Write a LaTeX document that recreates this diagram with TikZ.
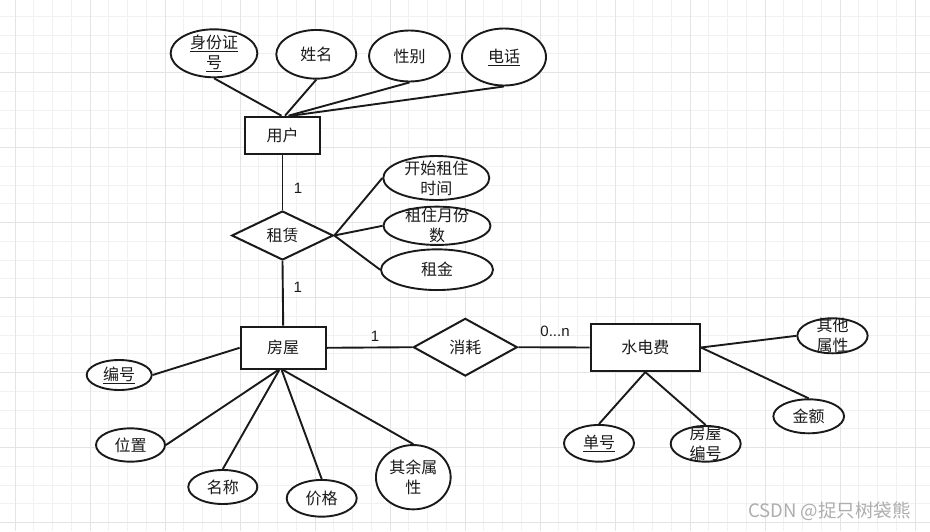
\documentclass[tikz,border=0pt]{standalone}
\usepackage{fontspec}
\setmainfont{Liberation Sans}
\newfontfamily\cjk{Noto Sans CJK SC}
\usetikzlibrary{shapes.geometric,calc}
\definecolor{ink}{HTML}{1A1A1A}
\definecolor{gridminor}{HTML}{F1F1F1}
\definecolor{gridmajor}{HTML}{E4E4E4}
\begin{document}
\begin{tikzpicture}[x=1pt,y=-1pt,
  ln/.style={line width=1.9pt, draw=ink},
  cjktext/.style={font=\cjk\fontsize{16}{20}\selectfont, text=ink},
  lbl/.style={cjktext, align=center, inner sep=0pt},
  ent/.style={rectangle, draw=ink, line width=2.2pt, fill=white, inner sep=0pt, cjktext},
  rel/.style={diamond, draw=ink, line width=2pt, fill=white, inner sep=0pt, cjktext},
  attr/.style={ellipse, draw=ink, line width=1.9pt, fill=white, inner sep=0pt, cjktext},
  card/.style={font=\fontsize{15}{16}\selectfont, text=ink, inner sep=0pt},
  minorgrid/.style={draw=gridminor, line width=1pt},
  majorgrid/.style={draw=gridmajor, line width=1pt}]
\useasboundingbox (0,0) rectangle (930,531);
\fill[white] (0,0) rectangle (930,531);
% grid
\foreach \i in {0,...,48} \draw[minorgrid] (15+18.75*\i,0) -- (15+18.75*\i,531);
\foreach \i in {1,...,28} \draw[minorgrid] (0,-2.3+18.75*\i) -- (930,-2.3+18.75*\i);
\foreach \i in {0,...,12} \draw[majorgrid] (15+75*\i,0) -- (15+75*\i,531);
\foreach \i in {1,...,7} \draw[majorgrid] (0,-2.3+75*\i) -- (930,-2.3+75*\i);

% entities and relations
\node[ent, minimum width=75, minimum height=37] (user) at (282.5,135.3) {用户};
\node[rel, minimum width=101.6, minimum height=49] (lease) at (282.5,235.5) {租赁};
\node[ent, minimum width=85, minimum height=42.3] (house) at (283.2,347.8) {房屋};
\node[rel, minimum width=104, minimum height=57.7] (use) at (465.3,347.2) {消耗};
\node[ent, minimum width=109.3, minimum height=47] (fee) at (645.3,347.5) {水电费};

% user attributes
\node[attr, minimum width=86.7, minimum height=48,
  label={[lbl]center:{\underline{身份证}\\\underline{号}}}] (idno) at (214,53.3) {};
\node[attr, minimum width=80, minimum height=48.7] (name) at (316.3,54.3) {姓名};
\node[attr, minimum width=81, minimum height=51] (sex) at (409.5,56) {性别};
\node[attr, minimum width=84, minimum height=57] (tel) at (504,57) {\underline{电话}};

% lease attributes
\node[attr, minimum width=106, minimum height=44,
  label={[lbl]center:{开始租住\\时间}}] (start) at (436.3,178) {};
\node[attr, minimum width=107, minimum height=38.3,
  label={[lbl]center:{租住月份\\数}}] (months) at (437,225.8) {};
\node[attr, minimum width=112, minimum height=40.7] (rent) at (437,269.7) {租金};

% house attributes
\node[attr, minimum width=65, minimum height=30] (num) at (119.2,375) {\underline{编号}};
\node[attr, minimum width=69, minimum height=33.3] (pos) at (130.5,445) {位置};
\node[attr, minimum width=69, minimum height=34] (nm) at (222.8,487) {名称};
\node[attr, minimum width=70, minimum height=36.7] (price) at (321.7,498.3) {价格};
\node[attr, minimum width=74.7, minimum height=64.3,
  label={[lbl]center:{其余属\\性}}] (rest) at (413.3,477.2) {};

% fee attributes
\node[attr, minimum width=70.3, minimum height=35,
  label={[lbl]center:{其他\\属性}}] (oth) at (832.5,335.8) {};
\node[attr, minimum width=70.7, minimum height=34] (amt) at (808.7,416.3) {金额};
\node[attr, minimum width=70, minimum height=36.7] (bill) at (599,443.3) {\underline{单号}};
\node[attr, minimum width=70, minimum height=35.7,
  label={[lbl]center:{房屋\\编号}}] (hno) at (705.7,443.8) {};

% connectors
\draw[ln] (idno.south) -- ($(user.north)+(-1,0)$);
\draw[ln] (name.south) -- ($(user.north)+(2.5,0)$);
\draw[ln] (sex.south) -- ($(user.north)+(6,0)$);
\draw[ln] (tel.south) -- ($(user.north)+(9,0)$);
\draw[ln] (user.south) -- (lease.north);
\draw[ln] (lease.south) -- (house.north);
\draw[ln] (lease.east) -- (start.west);
\draw[ln] (lease.east) -- (months.west);
\draw[ln] (lease.east) -- (rent.west);
\draw[ln] (house.east) -- (use.west);
\draw[ln] (use.east) -- (fee.west);
\draw[ln] (num.east) -- (house.west);
\draw[ln] (pos.east) -- ($(house.south)+(-5,0)$);
\draw[ln] (nm.north) -- ($(house.south)+(-4,0)$);
\draw[ln] (price.north) -- ($(house.south)+(-1.5,0)$);
\draw[ln] (rest.north) -- (house.south);
\draw[ln] (fee.east) -- (oth.west);
\draw[ln] (fee.east) -- (amt.north);
\draw[ln] (fee.south) -- (bill.north);
\draw[ln] (fee.south) -- (hno.north);

% cardinalities
\node[card] (c1) at (298,188.3) {1};
\node[card] (c2) at (297.7,287.3) {1};
\node[card] (c3) at (375,336.7) {1};
\node[card] (c4) at (555,331.7) {0...n};

% watermark
\node[font=\cjk\fontsize{18.5}{20}\selectfont, text=black!32, inner sep=0pt] (wm) at (829.7,511.7) {CSDN @捉只树袋熊};
\end{tikzpicture}
\end{document}
